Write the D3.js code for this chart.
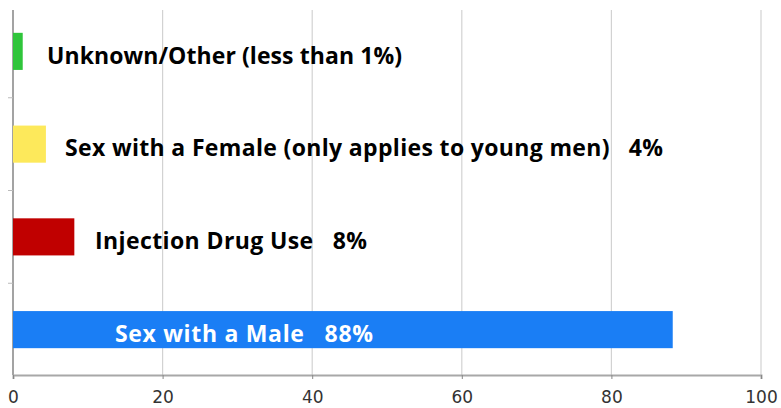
<!DOCTYPE html>
<html><head><meta charset="utf-8">
<script src="https://cdn.jsdelivr.net/npm/d3@7"></script>
<style>body{margin:0;background:#fff;}svg{display:block;}</style>
</head><body>
<script>
const categories = ["Unknown/Other", "Sex with a Female", "Injection Drug Use", "Sex with a Male"];
const values = [1.3, 4.4, 8.2, 88.2];
const labels = ["Unknown/Other (less than 1%)", "Sex with a Female (only applies to young men)   4%", "Injection Drug Use   8%", "Sex with a Male   88%"];
const labelOffsets = [34, 52, 82, 102];
const labelWidths = [355, 598, 272, 258];
const colors = ["#2fc53b", "#fde95b", "#c00000", "#1a7ef5"];
const labelColors = ["#000", "#000", "#000", "#fff"];
const xTicks = [0, 20, 40, 60, 80, 100];

const W = 781, H = 408;
const svg = d3.select("body").append("svg").attr("width", W).attr("height", H);
const x = d3.scaleLinear().domain([0, 100]).range([13, 761]);
const y = d3.scaleBand().domain(categories).range([5, 376]).paddingInner(0.6).paddingOuter(0.3);
const plotTop = 10, plotBottom = 375;

// gridlines
svg.append("g").selectAll("line").data(xTicks.filter(d => d > 0)).join("line")
  .attr("x1", d => x(d)).attr("x2", d => x(d)).attr("y1", plotTop).attr("y2", plotBottom)
  .attr("stroke", "#d2d2d2").attr("stroke-width", 1.2);

// left axis with ticks at band boundaries
const bounds = [1, 2, 3].map(i => 5 + i * y.step());
svg.append("line").attr("x1", x(0)).attr("x2", x(0)).attr("y1", plotTop).attr("y2", plotBottom)
  .attr("stroke", "#666").attr("stroke-width", 1.2);
svg.append("g").selectAll("line").data(bounds).join("line")
  .attr("x1", x(0) - 5).attr("x2", x(0)).attr("y1", d => d).attr("y2", d => d)
  .attr("stroke", "#bbb");

// bottom axis
const xAxis = d3.axisBottom(x).tickValues(xTicks).tickSize(4).tickFormat(d3.format("d"));
const gx = svg.append("g").attr("transform", `translate(0,${plotBottom})`).call(xAxis);
gx.select(".domain").attr("stroke", "#a8a8a8").attr("stroke-width", 2);
gx.selectAll(".tick line").attr("stroke", "#888");
gx.selectAll("text")
  .style("font-family", "DejaVu Sans, sans-serif").style("font-size", "17px")
  .attr("fill", "#333").attr("y", 28).attr("dy", 0);

// bars
svg.append("g").selectAll("rect").data(categories).join("rect")
  .attr("x", x(0)).attr("y", d => y(d))
  .attr("width", (d, i) => x(values[i]) - x(0)).attr("height", y.bandwidth())
  .attr("fill", (d, i) => colors[i]);

// labels
svg.append("g").selectAll("text").data(categories).join("text")
  .attr("x", (d, i) => x(0) + labelOffsets[i])
  .attr("y", d => y(d) + y.bandwidth() / 2 + 6)
  .attr("dominant-baseline", "middle")
  .attr("font-family", "Open Sans, sans-serif").attr("font-weight", "bold")
  .attr("font-size", 23).attr("fill", (d, i) => labelColors[i])
  .attr("textLength", (d, i) => labelWidths[i]).attr("lengthAdjust", "spacing")
  .attr("xml:space", "preserve").style("white-space", "pre")
  .text((d, i) => labels[i]);
</script>
</body></html>
